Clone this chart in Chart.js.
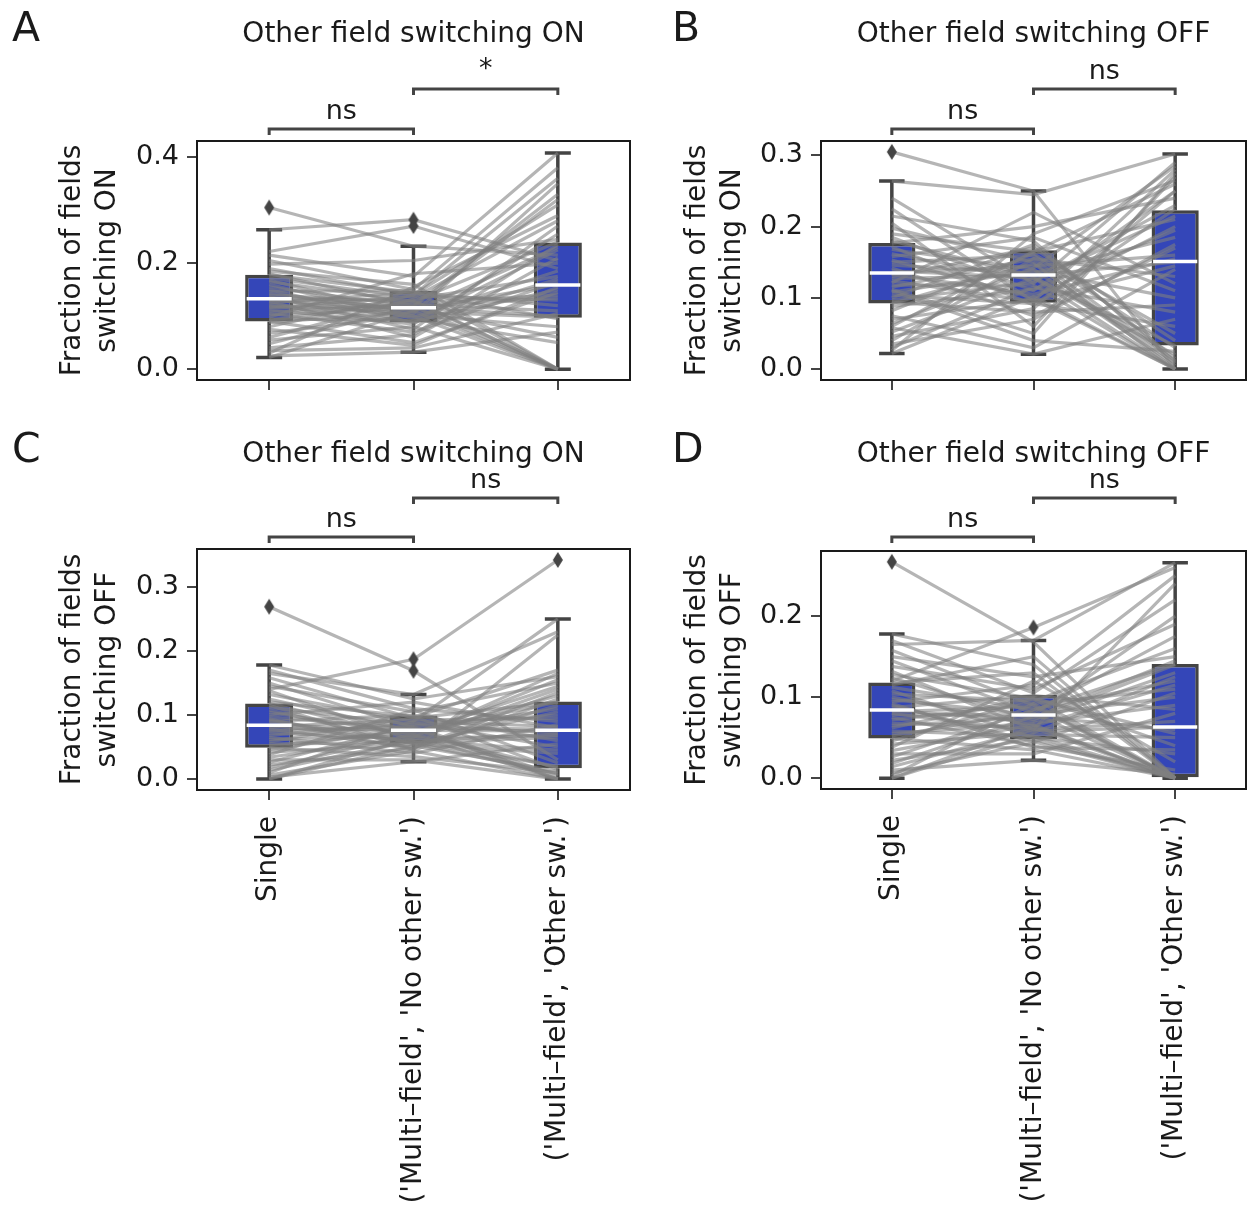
<!DOCTYPE html>
<html>
<head>
<meta charset="utf-8">
<script src="https://cdn.jsdelivr.net/npm/chart.js@4.4.0/dist/chart.umd.min.js"></script>
<style>
  body { margin: 0; background: #fff; width: 1253px; height: 1210px; position: relative; overflow: hidden; }
  canvas { position: absolute; }
</style>
</head>
<body>
<canvas id="chartA" width="640" height="420" style="left:0;top:0"></canvas>
<canvas id="chartB" width="628" height="420" style="left:625px;top:0"></canvas>
<canvas id="chartC" width="640" height="790" style="left:0;top:420px"></canvas>
<canvas id="chartD" width="628" height="790" style="left:625px;top:420px"></canvas>
<script>
// categories shared by all four panels
const categories = ['Single', "('Multi\u2013field', 'No other sw.')", "('Multi\u2013field', 'Other sw.')"];

// ---- Panel A: fraction switching ON, other field switching ON ----
const aSingle = [0.305,0.263,0.222,0.215,0.205,0.198,0.190,0.185,0.180,0.178,0.172,0.168,0.165,0.160,0.155,0.150,0.147,0.143,0.140,0.137,0.135,0.133,0.132,0.130,0.128,0.125,0.122,0.120,0.117,0.115,0.112,0.108,0.105,0.102,0.098,0.095,0.092,0.090,0.088,0.080,0.075,0.068,0.060,0.055,0.048,0.040,0.035,0.030,0.025,0.022];
const aNoOther = [0.232,0.282,0.270,0.175,0.150,0.205,0.140,0.160,0.120,0.145,0.135,0.100,0.128,0.095,0.118,0.088,0.148,0.110,0.125,0.075,0.116,0.130,0.098,0.112,0.060,0.145,0.105,0.090,0.118,0.138,0.085,0.122,0.070,0.115,0.180,0.092,0.128,0.050,0.108,0.140,0.045,0.102,0.132,0.080,0.118,0.065,0.040,0.155,0.032,0.110];
const aOther = [0.215,0.205,0.190,0.408,0.380,0.245,0.360,0.000,0.330,0.120,0.280,0.000,0.240,0.050,0.320,0.170,0.000,0.230,0.140,0.270,0.100,0.000,0.185,0.160,0.210,0.095,0.350,0.150,0.000,0.130,0.255,0.110,0.165,0.060,0.200,0.225,0.000,0.145,0.098,0.310,0.155,0.080,0.175,0.000,0.135,0.235,0.105,0.290,0.070,0.000];
const aLow = [0.022, 0.032, 0.000];
const aQ1 = [0.090, 0.088, 0.097];
const aMed = [0.133, 0.116, 0.159];
const aQ3 = [0.178, 0.148, 0.239];
const aHigh = [0.263, 0.232, 0.408];
const aOutCat = [0, 1, 1];
const aOutVal = [0.305, 0.282, 0.270];
const aTicks = [0.0, 0.2, 0.4];
const aSig = ['ns', '*'];

// ---- Panel B: fraction switching ON, other field switching OFF ----
const bSingle = [0.305,0.264,0.240,0.225,0.215,0.205,0.198,0.190,0.185,0.180,0.177,0.172,0.168,0.162,0.158,0.153,0.150,0.146,0.142,0.138,0.135,0.133,0.130,0.127,0.124,0.121,0.118,0.115,0.112,0.108,0.104,0.100,0.097,0.094,0.092,0.088,0.082,0.075,0.070,0.064,0.058,0.052,0.046,0.040,0.035,0.030,0.026,0.022,0.060,0.110];
const bNoOther = [0.250,0.245,0.120,0.095,0.180,0.060,0.150,0.165,0.110,0.130,0.200,0.090,0.140,0.125,0.185,0.100,0.160,0.135,0.075,0.128,0.145,0.105,0.170,0.132,0.095,0.220,0.118,0.155,0.050,0.138,0.092,0.175,0.122,0.080,0.148,0.112,0.162,0.030,0.098,0.142,0.021,0.128,0.085,0.155,0.070,0.115,0.190,0.102,0.165,0.040];
const bOther = [0.000,0.302,0.290,0.280,0.010,0.270,0.000,0.260,0.250,0.020,0.240,0.225,0.005,0.215,0.110,0.200,0.030,0.185,0.170,0.000,0.160,0.155,0.040,0.150,0.145,0.120,0.000,0.130,0.275,0.100,0.060,0.015,0.230,0.090,0.008,0.195,0.050,0.140,0.000,0.285,0.070,0.033,0.250,0.012,0.175,0.080,0.265,0.000,0.210,0.025];
const bLow = [0.022, 0.021, 0.000];
const bQ1 = [0.092, 0.093, 0.033];
const bMed = [0.135, 0.132, 0.151];
const bQ3 = [0.177, 0.167, 0.223];
const bHigh = [0.264, 0.250, 0.302];
const bOutCat = [0];
const bOutVal = [0.305];
const bTicks = [0.0, 0.1, 0.2, 0.3];
const bSig = ['ns', 'ns'];

// ---- Panel C: fraction switching OFF, other field switching ON ----
const cSingle = [0.269,0.140,0.178,0.170,0.165,0.158,0.150,0.145,0.138,0.132,0.125,0.120,0.118,0.112,0.108,0.104,0.100,0.097,0.094,0.090,0.087,0.084,0.082,0.080,0.078,0.075,0.072,0.068,0.065,0.062,0.058,0.055,0.052,0.049,0.046,0.042,0.038,0.034,0.030,0.026,0.022,0.018,0.014,0.010,0.006,0.003,0.000,0.000,0.115,0.092];
const cNoOther = [0.169,0.187,0.125,0.110,0.132,0.095,0.080,0.105,0.060,0.090,0.075,0.098,0.065,0.085,0.055,0.070,0.120,0.078,0.045,0.100,0.072,0.058,0.092,0.076,0.050,0.082,0.062,0.088,0.040,0.068,0.096,0.057,0.074,0.035,0.080,0.054,0.108,0.066,0.030,0.084,0.048,0.070,0.060,0.090,0.044,0.027,0.052,0.064,0.046,0.056];
const cOther = [0.030,0.342,0.160,0.090,0.230,0.120,0.000,0.150,0.070,0.250,0.110,0.015,0.165,0.100,0.040,0.130,0.080,0.000,0.125,0.060,0.145,0.020,0.095,0.075,0.115,0.005,0.140,0.050,0.085,0.000,0.170,0.065,0.120,0.010,0.078,0.105,0.025,0.155,0.000,0.072,0.135,0.018,0.045,0.082,0.000,0.055,0.012,0.068,0.225,0.008];
const cLow = [0.000, 0.027, 0.000];
const cQ1 = [0.049, 0.056, 0.017];
const cMed = [0.084, 0.076, 0.076];
const cQ3 = [0.118, 0.099, 0.121];
const cHigh = [0.178, 0.132, 0.250];
const cOutCat = [0, 1, 1, 2];
const cOutVal = [0.269, 0.187, 0.169, 0.342];
const cTicks = [0.0, 0.1, 0.2, 0.3];
const cSig = ['ns', 'ns'];

// ---- Panel D: fraction switching OFF, other field switching OFF ----
const dSingle = [0.267,0.120,0.178,0.170,0.165,0.158,0.150,0.145,0.138,0.132,0.128,0.124,0.118,0.112,0.108,0.104,0.100,0.097,0.094,0.090,0.087,0.084,0.082,0.080,0.078,0.075,0.072,0.068,0.065,0.062,0.058,0.055,0.052,0.049,0.046,0.042,0.038,0.034,0.030,0.026,0.022,0.018,0.014,0.010,0.006,0.003,0.000,0.000,0.115,0.092];
const dNoOther = [0.168,0.186,0.140,0.105,0.170,0.090,0.125,0.080,0.110,0.060,0.098,0.072,0.130,0.085,0.050,0.095,0.065,0.078,0.115,0.045,0.102,0.070,0.088,0.058,0.078,0.040,0.092,0.062,0.075,0.100,0.052,0.068,0.082,0.035,0.098,0.056,0.120,0.066,0.030,0.084,0.048,0.076,0.060,0.022,0.044,0.092,0.054,0.064,0.150,0.038];
const dOther = [0.000,0.260,0.000,0.220,0.266,0.000,0.150,0.000,0.190,0.070,0.000,0.140,0.000,0.120,0.030,0.160,0.000,0.100,0.250,0.000,0.085,0.130,0.000,0.063,0.200,0.010,0.110,0.000,0.145,0.040,0.000,0.090,0.175,0.000,0.055,0.125,0.020,0.000,0.080,0.141,0.000,0.060,0.240,0.005,0.105,0.000,0.050,0.115,0.000,0.035];
const dLow = [0.000, 0.022, 0.000];
const dQ1 = [0.049, 0.048, 0.000];
const dMed = [0.084, 0.078, 0.063];
const dQ3 = [0.118, 0.103, 0.141];
const dHigh = [0.178, 0.170, 0.266];
const dOutCat = [0, 1];
const dOutVal = [0.267, 0.186];
const dTicks = [0.0, 0.1, 0.2];
const dSig = ['ns', 'ns'];

// styling
const FONT = '"DejaVu Sans", sans-serif';
const BOX_BLUE = 'rgb(52, 70, 184)';
const EDGE = '#444444';
const LINE_GRAY = 'rgba(128, 128, 128, 0.58)';
const INK = '#1a1a1a';

Chart.defaults.font.family = FONT;
Chart.defaults.color = INK;

// thin diamond marker like matplotlib's 'd'
function diamondMarker() {
  const c = document.createElement('canvas');
  c.width = 12;
  c.height = 18;
  const g = c.getContext('2d');
  g.fillStyle = EDGE;
  g.beginPath();
  g.moveTo(6, 1);
  g.lineTo(11, 9);
  g.lineTo(6, 17);
  g.lineTo(1, 9);
  g.closePath();
  g.fill();
  return c;
}
const diamond = diamondMarker();

function makePanel(id, p, lay) {
  const datasets = [];

  // IQR boxes as floating bars
  datasets.push({
    type: 'bar',
    data: p.q1.map((v, i) => [v, p.q3[i]]),
    backgroundColor: BOX_BLUE,
    borderColor: EDGE,
    borderWidth: 3.5,
    borderSkipped: false,
    barPercentage: 0.333,
    categoryPercentage: 1,
    order: 10,
  });

  // one line per animal / session
  for (let k = 0; k < p.single.length; k++) {
    datasets.push({
      type: 'line',
      data: [p.single[k], p.noOther[k], p.other[k]],
      borderColor: LINE_GRAY,
      borderWidth: 3.2,
      pointRadius: 0,
      tension: 0,
      order: 5,
    });
  }

  // outliers (x given as category label so the category scale maps it)
  datasets.push({
    type: 'line',
    showLine: false,
    data: p.outCat.map((c, i) => ({ x: categories[c], y: p.outVal[i] })),
    pointStyle: diamond,
    pointRadius: 6,
    order: 0,
  });

  const deco = {
    id: 'deco_' + id,
    beforeDatasetsDraw(chart) {
      // whiskers + caps
      const ctx = chart.ctx;
      const y = chart.scales.y;
      const bars = chart.getDatasetMeta(0).data;
      ctx.save();
      ctx.strokeStyle = EDGE;
      ctx.lineWidth = 3.5;
      bars.forEach((bar, i) => {
        const half = bar.width / 3.7;
        ctx.beginPath();
        ctx.moveTo(bar.x, y.getPixelForValue(p.q3[i]));
        ctx.lineTo(bar.x, y.getPixelForValue(p.high[i]));
        ctx.moveTo(bar.x, y.getPixelForValue(p.q1[i]));
        ctx.lineTo(bar.x, y.getPixelForValue(p.low[i]));
        ctx.moveTo(bar.x - half, y.getPixelForValue(p.high[i]));
        ctx.lineTo(bar.x + half, y.getPixelForValue(p.high[i]));
        ctx.moveTo(bar.x - half, y.getPixelForValue(p.low[i]));
        ctx.lineTo(bar.x + half, y.getPixelForValue(p.low[i]));
        ctx.stroke();
      });
      ctx.restore();
    },
    afterDatasetsDraw(chart) {
      // medians
      const ctx = chart.ctx;
      const y = chart.scales.y;
      const bars = chart.getDatasetMeta(0).data;
      ctx.save();
      ctx.strokeStyle = '#ffffff';
      ctx.lineWidth = 3.5;
      bars.forEach((bar, i) => {
        const yy = y.getPixelForValue(p.med[i]);
        ctx.beginPath();
        ctx.moveTo(bar.x - bar.width / 2 + 1.5, yy);
        ctx.lineTo(bar.x + bar.width / 2 - 1.5, yy);
        ctx.stroke();
      });
      ctx.restore();
    },
    afterDraw(chart) {
      const ctx = chart.ctx;
      const a = chart.chartArea;
      const x = chart.scales.x;
      ctx.save();
      // frame
      ctx.strokeStyle = INK;
      ctx.lineWidth = 2;
      ctx.strokeRect(a.left, a.top, a.right - a.left, a.bottom - a.top);

      // panel letter
      ctx.fillStyle = INK;
      ctx.textBaseline = 'alphabetic';
      ctx.textAlign = 'left';
      ctx.font = '41px ' + FONT;
      ctx.fillText(p.letter, lay.letterX, lay.letterY);

      // title
      ctx.textAlign = 'center';
      ctx.font = '28px ' + FONT;
      ctx.fillText(p.title, (a.left + a.right) / 2, lay.titleY);

      // y axis label, two lines
      const cy = (a.top + a.bottom) / 2;
      p.ylabel.forEach((txt, i) => {
        ctx.save();
        ctx.translate(lay.ylabX[i], cy);
        ctx.rotate(-Math.PI / 2);
        ctx.fillText(txt, 0, 0);
        ctx.restore();
      });

      // significance brackets
      ctx.strokeStyle = EDGE;
      ctx.lineWidth = 3;
      ctx.font = '27px ' + FONT;
      p.sig.forEach((label, i) => {
        const x0 = x.getPixelForValue(i);
        const x1 = x.getPixelForValue(i + 1);
        const yb = a.top - lay.bracketUp[i];
        ctx.beginPath();
        ctx.moveTo(x0, yb + 6);
        ctx.lineTo(x0, yb);
        ctx.lineTo(x1, yb);
        ctx.lineTo(x1, yb + 6);
        ctx.stroke();
        ctx.fillText(label, (x0 + x1) / 2, label === '*' ? yb - 12 : yb - 10);
      });
      ctx.restore();
    },
  };

  new Chart(document.getElementById(id), {
    data: { labels: categories, datasets: datasets },
    options: {
      responsive: false,
      animation: false,
      layout: { padding: { top: lay.padTop, right: lay.padRight, left: 0, bottom: 0 } },
      plugins: { legend: { display: false }, tooltip: { enabled: false } },
      scales: {
        x: {
          type: 'category',
          offset: true,
          grid: { display: true, drawOnChartArea: false, drawTicks: true, tickLength: 10, offset: false, color: EDGE, lineWidth: 2 },
          border: { display: false },
          ticks: {
            display: lay.showX,
            autoSkip: false,
            minRotation: 90,
            maxRotation: 90,
            padding: 16,
            color: INK,
            font: { family: FONT, size: 28 },
          },
          afterFit: (s) => { s.height = lay.xAxisH; },
        },
        y: {
          min: p.yMin,
          max: p.yMax,
          afterBuildTicks: (s) => { s.ticks = p.ticks.map((v) => ({ value: v })); },
          grid: { drawOnChartArea: false, drawTicks: true, tickLength: 10, color: EDGE, lineWidth: 2 },
          border: { display: false },
          ticks: {
            padding: 8,
            color: INK,
            font: { family: FONT, size: 27 },
            callback: (v) => Number(v).toFixed(1),
          },
          afterFit: (s) => { s.width = lay.yAxisW; },
        },
      },
    },
    plugins: [deco],
  });
}

makePanel('chartA', {
  single: aSingle, noOther: aNoOther, other: aOther,
  low: aLow, q1: aQ1, med: aMed, q3: aQ3, high: aHigh,
  outCat: aOutCat, outVal: aOutVal, ticks: aTicks, sig: aSig,
  yMin: -0.0205, yMax: 0.4305,
  letter: 'A', title: 'Other field switching ON',
  ylabel: ['Fraction of fields', 'switching ON'],
}, { padTop: 141, padRight: 10, yAxisW: 197, xAxisH: 40, showX: false,
     letterX: 12, letterY: 41, titleY: 42, ylabX: [80, 115], bracketUp: [12, 52] });

makePanel('chartB', {
  single: bSingle, noOther: bNoOther, other: bOther,
  low: bLow, q1: bQ1, med: bMed, q3: bQ3, high: bHigh,
  outCat: bOutCat, outVal: bOutVal, ticks: bTicks, sig: bSig,
  yMin: -0.0153, yMax: 0.3203,
  letter: 'B', title: 'Other field switching OFF',
  ylabel: ['Fraction of fields', 'switching ON'],
}, { padTop: 141, padRight: 1, yAxisW: 196, xAxisH: 40, showX: false,
     letterX: 47, letterY: 41, titleY: 42, ylabX: [80, 115], bracketUp: [12, 52] });

makePanel('chartC', {
  single: cSingle, noOther: cNoOther, other: cOther,
  low: cLow, q1: cQ1, med: cMed, q3: cQ3, high: cHigh,
  outCat: cOutCat, outVal: cOutVal, ticks: cTicks, sig: cSig,
  yMin: -0.0171, yMax: 0.3591,
  letter: 'C', title: 'Other field switching ON',
  ylabel: ['Fraction of fields', 'switching OFF'],
}, { padTop: 129, padRight: 10, yAxisW: 197, xAxisH: 420, showX: true,
     letterX: 12, letterY: 42, titleY: 42, ylabX: [80, 115], bracketUp: [12, 51] });

makePanel('chartD', {
  single: dSingle, noOther: dNoOther, other: dOther,
  low: dLow, q1: dQ1, med: dMed, q3: dQ3, high: dHigh,
  outCat: dOutCat, outVal: dOutVal, ticks: dTicks, sig: dSig,
  yMin: -0.0134, yMax: 0.2804,
  letter: 'D', title: 'Other field switching OFF',
  ylabel: ['Fraction of fields', 'switching OFF'],
}, { padTop: 131, padRight: 1, yAxisW: 196, xAxisH: 421, showX: true,
     letterX: 47, letterY: 42, titleY: 42, ylabX: [80, 115], bracketUp: [14, 53] });
</script>
</body>
</html>
